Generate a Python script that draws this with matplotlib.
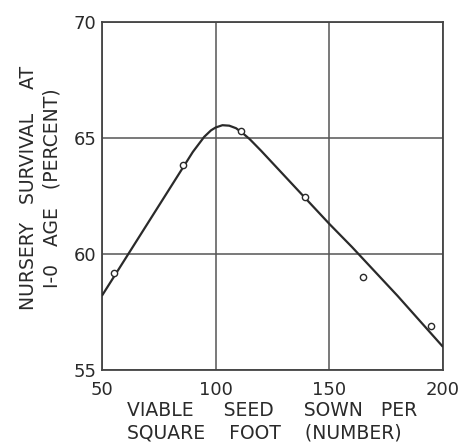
import matplotlib
matplotlib.use("Agg")
import matplotlib.pyplot as plt

# fitted curve
curve_x = [50, 60, 70, 80, 90, 95, 98, 100, 103, 106, 109, 112, 115, 120, 130, 140, 150, 160, 170, 180, 190, 200]
curve_y = [58.2, 59.75, 61.3, 62.85, 64.4, 65.05, 65.33, 65.45, 65.55, 65.53, 65.42, 65.2, 64.95, 64.45,
           63.4, 62.35, 61.3, 60.3, 59.25, 58.2, 57.1, 56.0]

# observed points
obs_x = [55.5, 85.5, 111.3, 139.2, 164.6, 194.5]
obs_y = [59.2, 63.85, 65.3, 62.45, 59.0, 56.9]

xticks = [50, 100, 150, 200]
yticks = [55, 60, 65, 70]

ink = "#2a2a2a"

fig = plt.figure(figsize=(4.61, 4.47), dpi=100)
ax = fig.add_axes([0.221, 0.172, 0.740, 0.779])

ax.plot(curve_x, curve_y, color=ink, lw=1.6, solid_capstyle="butt", zorder=3)
ax.plot(obs_x, obs_y, "o", ms=4.5, mfc="white", mec=ink, mew=1.0, zorder=4)

ax.set_xlim(50, 200)
ax.set_ylim(55, 70)
ax.set_xticks(xticks)
ax.set_yticks(yticks)
ax.grid(True, color="#555555", lw=1.1)
ax.set_axisbelow(True)
for s in ax.spines.values():
    s.set_color("#444444")
    s.set_linewidth(1.3)
ax.tick_params(length=0, labelsize=13, colors=ink)
ax.tick_params(axis="x", pad=8)
ax.tick_params(axis="y", pad=4)

fig.text(127 / 461, 1 - 422 / 447,
         "VIABLE     SEED     SOWN   PER\nSQUARE    FOOT    (NUMBER)",
         ha="left", va="center", fontsize=13.5, color=ink, linespacing=1.25,
         multialignment="left")
fig.text(40 / 461, 1 - 188 / 447, "NURSERY   SURVIVAL    AT\nI-0   AGE   (PERCENT)",
         ha="center", va="center", rotation=90, fontsize=13.5, color=ink,
         linespacing=1.3, multialignment="center")

fig.savefig("out.png", dpi=100, facecolor="white")
